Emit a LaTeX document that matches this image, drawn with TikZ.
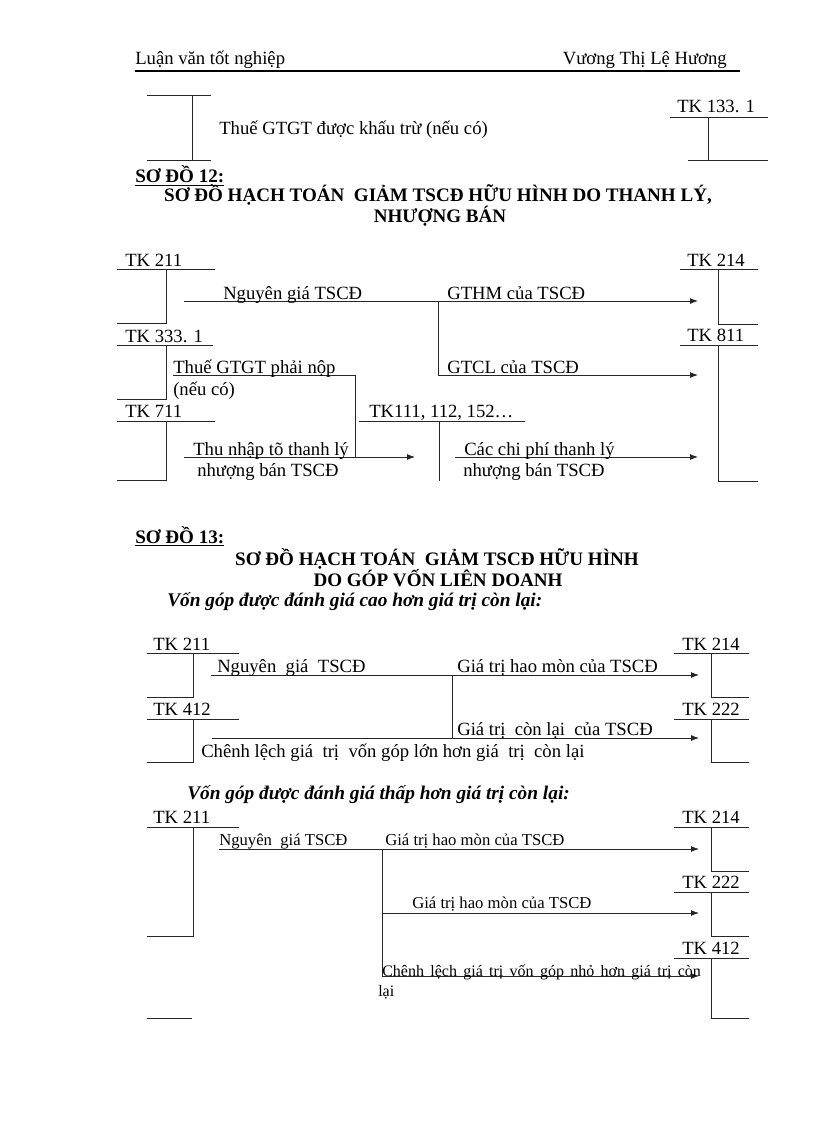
\documentclass[tikz,border=0pt]{standalone}
\usepackage{fontspec}
\setmainfont{Liberation Serif}
\usetikzlibrary{arrows.meta}

\begin{document}
\begin{tikzpicture}[x=0.75pt,y=-0.75pt,>={Latex[length=6pt,width=4.5pt]},
  acc/.style={black!85,line width=0.7pt},
  flow/.style={black!85,line width=0.7pt,->},
  lbl/.style={anchor=base west,inner sep=0pt,font=\fontsize{14}{16}\selectfont},
  lbls/.style={anchor=base west,inner sep=0pt,font=\fontsize{12.5}{15}\selectfont},
  ttl/.style={anchor=base,inner sep=0pt,font=\fontsize{14.3}{16}\selectfont\bfseries},
  num/.style={anchor=base west,inner sep=0pt,font=\fontsize{14.3}{16}\selectfont\bfseries},
  sub/.style={anchor=base west,inner sep=0pt,font=\fontsize{14.5}{16}\selectfont\bfseries\itshape}]
  \useasboundingbox[fill=white] (0,0) rectangle (816,1123);

  % Page header
  \node[lbl] (hleft) at (135,65) {Luận văn tốt nghiệp};
  \node[lbl,anchor=base east] (hright) at (727,65) {Vương Thị Lệ Hương};
  \draw[line width=1.5pt] (135,71) -- (740,71);

  % End of the previous diagram
  \draw[acc] (147,95) -- (211,95) (192,95) -- (192,160) (147,160) -- (211,160);
  \node[lbl] (vatin) at (219,135) {Thuế GTGT được khấu trừ (nếu có)};
  \node[lbl] (tk1331a) at (677,113) {TK 133. 1};
  \draw[acc] (670,117) -- (768,117) (708,117) -- (708,160) (688,160) -- (768,160);

  % Diagram 12 titles
  \node[num] (t12) at (135,183) {\underline{SƠ ĐỒ 12:}};
  \node[ttl] (t12a) at (438,202) {SƠ ĐỒ HẠCH TOÁN\ \ GIẢM TSCĐ HỮU HÌNH DO THANH LÝ,};
  \node[ttl] (t12b) at (440,223) {NHƯỢNG BÁN};

  % Diagram 12 accounts
  \node[lbl] (tk211a) at (125,266) {TK 211};
  \draw[acc] (117,269) -- (215,269) (166,269) -- (166,323) -- (117,323);
  \node[lbl] (tk3331b) at (125,342) {TK 333. 1};
  \draw[acc] (117,345) -- (213,345) (166,345) -- (166,399) -- (117,399);
  \node[lbl] (tk711) at (125,417) {TK 711};
  \draw[acc] (117,421) -- (215,421) (166,421) -- (166,480) -- (117,480);
  \node[lbl] (tk214a) at (687,266) {TK 214};
  \draw[acc] (680,269) -- (758,269) (718,269) -- (718,324) -- (758,324);
  \node[lbl] (tk811) at (687,341) {TK 811};
  \draw[acc] (680,345) -- (758,345) (718,345) -- (718,481) -- (758,481);
  \node[lbl] (tk111) at (369,417) {TK111, 112, 152…};
  \draw[acc] (359,421) -- (525,421) (439,421) -- (439,481);

  % Diagram 12 entries
  \coordinate (a12s) at (184,301);
  \coordinate (a12j) at (438,301);
  \coordinate (a12k) at (438,375);
  \coordinate (a12e) at (698,301);
  \coordinate (a12f) at (698,375);
  \draw[flow] (a12s) -- (a12e);
  \draw[flow] (a12j) -- (a12k) -- (a12f);
  \node[lbl] (ng12) at (223,299) {Nguyên giá TSCĐ};
  \node[lbl] (hm12) at (447,299) {GTHM của TSCĐ};
  \node[lbl] (cl12) at (447,373) {GTCL của TSCĐ};

  \coordinate (v12s) at (173,375);
  \coordinate (v12k) at (355,375);
  \coordinate (v12e) at (355,457);
  \draw[acc] (v12s) -- (v12k) -- (v12e);
  \node[lbl] (vat12) at (173,373) {Thuế GTGT phải nộp};
  \node[lbl] (vat12b) at (173,395) {(nếu có)};

  \coordinate (i12s) at (184,457);
  \coordinate (i12e) at (415,457);
  \draw[flow] (i12s) -- (i12e);
  \node[lbl] (inc12) at (193,455) {Thu nhập tõ thanh lý};
  \node[lbl] (inc12b) at (197,476) {nhượng bán TSCĐ};

  \coordinate (c12s) at (455,457);
  \coordinate (c12e) at (698,457);
  \draw[flow] (c12s) -- (c12e);
  \node[lbl] (cost12) at (464,455) {Các chi phí thanh lý};
  \node[lbl] (cost12b) at (463,476) {nhượng bán TSCĐ};

  % Diagram 13 titles
  \node[num] (t13) at (135,543) {\underline{SƠ ĐỒ 13:}};
  \node[ttl] (t13a) at (437,565) {SƠ ĐỒ HẠCH TOÁN\ \ GIẢM TSCĐ HỮU HÌNH};
  \node[ttl] (t13b) at (438,586) {DO GÓP VỐN LIÊN DOANH};
  \node[sub] (case1) at (167,606) {Vốn góp được đánh giá cao hơn giá trị còn lại:};

  % Diagram 13, first case
  \node[lbl] (tk211b) at (153,650) {TK 211};
  \draw[acc] (147,653) -- (239,653) (193,653) -- (193,697) -- (147,697);
  \node[lbl] (tk412a) at (153,715) {TK 412};
  \draw[acc] (147,719) -- (239,719) (193,719) -- (193,762) -- (147,762);
  \node[lbl] (tk214b) at (682,650) {TK 214};
  \draw[acc] (674,653) -- (749,653) (711,653) -- (711,697) -- (749,697);
  \node[lbl] (tk222a) at (682,715) {TK 222};
  \draw[acc] (674,719) -- (749,719) (711,719) -- (711,762) -- (749,762);

  \coordinate (a13s) at (211,675);
  \coordinate (a13j) at (452,675);
  \coordinate (a13k) at (452,738);
  \coordinate (a13e) at (699,675);
  \coordinate (b13s) at (212,738);
  \coordinate (b13e) at (699,738);
  \draw[flow] (a13s) -- (a13e);
  \draw[acc] (a13j) -- (a13k);
  \draw[flow] (b13s) -- (b13e);
  \node[lbl] (ng13) at (217,672) {Nguyên~ giá~ TSCĐ};
  \node[lbl] (hm13) at (457,672) {Giá trị hao mòn của TSCĐ};
  \node[lbl] (cl13) at (457,735) {Giá trị~ còn lại~ của TSCĐ};
  \node[lbl] (diff13) at (201,757) {Chênh lệch giá~ trị~ vốn góp lớn hơn giá~ trị~ còn lại};

  % Diagram 13, second case
  \node[sub] (case2) at (187,799) {Vốn góp được đánh giá thấp hơn giá trị còn lại:};
  \node[lbl] (tk211c) at (153,823) {TK 211};
  \draw[acc] (147,827) -- (239,827) (193,827) -- (193,936) -- (147,936);
  \draw[acc] (147,1018) -- (192,1018);
  \node[lbl] (tk214c) at (682,823) {TK 214};
  \draw[acc] (674,827) -- (749,827) (711,827) -- (711,871) -- (749,871);
  \node[lbl] (tk222b) at (682,888) {TK 222};
  \draw[acc] (674,892) -- (749,892) (711,892) -- (711,936) -- (749,936);
  \node[lbl] (tk412b) at (682,954) {TK 412};
  \draw[acc] (674,958) -- (749,958) (711,958) -- (711,1018) -- (749,1018);

  \coordinate (p13s) at (219,849);
  \coordinate (p13j) at (382,849);
  \coordinate (p13e) at (699,849);
  \coordinate (q13s) at (382,913);
  \coordinate (q13e) at (699,913);
  \coordinate (r13s) at (382,976);
  \coordinate (r13e) at (699,976);
  \draw[flow] (p13s) -- (p13e);
  \draw[acc] (p13j) -- (r13s);
  \draw[flow] (q13s) -- (q13e);
  \draw[flow] (r13s) -- (r13e);
  \node[lbls] (ng13b) at (219,845) {Nguyên~ giá TSCĐ};
  \node[lbls] (hm13b) at (385,845) {Giá trị hao mòn của TSCĐ};
  \node[lbls] (hm13c) at (412,908) {Giá trị hao mòn của TSCĐ};
  \node[lbl,font=\fontsize{12}{14}\selectfont] (diff13b) at (382,976)
    {\makebox[239pt][s]{Chênh lệch giá trị vốn góp nhỏ hơn giá trị còn}};
  \node[lbl,font=\fontsize{12}{14}\selectfont] (diff13c) at (378,996) {lại};
\end{tikzpicture}
\end{document}
